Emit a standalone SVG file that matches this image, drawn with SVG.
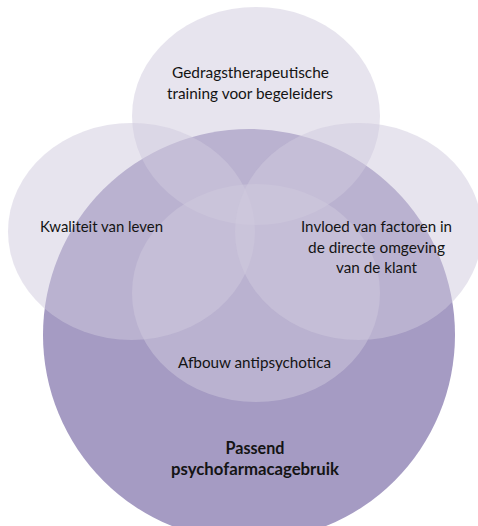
<svg xmlns="http://www.w3.org/2000/svg" width="478" height="526" viewBox="0 0 478 526">
  <style>
    .bg { fill: #ffffff; }
    .main { fill: #a59bc3; }
    .soft { fill: #cfc9dd; fill-opacity: 0.5; }
    .lbl { font-family: Lato, "Open Sans", "Liberation Sans", sans-serif; font-size: 16px; fill: #141414; text-anchor: middle; }
    .bold { font-weight: bold; font-size: 16.5px; }
  </style>
  <rect class="bg" x="0" y="0" width="478" height="526"/>
  <g id="node-passend">
    <circle class="main" cx="249" cy="335" r="206"/>
    <text class="lbl bold" x="255" y="453.5" textLength="59" lengthAdjust="spacingAndGlyphs">Passend</text>
    <text class="lbl bold" x="255" y="475" textLength="168" lengthAdjust="spacingAndGlyphs">psychofarmacagebruik</text>
  </g>
  <g id="node-training">
    <ellipse class="soft" cx="256" cy="116" rx="124" ry="109"/>
    <text class="lbl" x="250.5" y="78" textLength="157" lengthAdjust="spacingAndGlyphs">Gedragstherapeutische</text>
    <text class="lbl" x="250" y="98.5" textLength="166" lengthAdjust="spacingAndGlyphs">training voor begeleiders</text>
  </g>
  <g id="node-afbouw">
    <ellipse class="soft" cx="256" cy="293" rx="124" ry="109"/>
    <text class="lbl" x="254.5" y="368" textLength="153" lengthAdjust="spacingAndGlyphs">Afbouw antipsychotica</text>
  </g>
  <g id="node-kwaliteit">
    <ellipse class="soft" cx="131.5" cy="231.5" rx="123.5" ry="108.5"/>
    <text class="lbl" x="101.5" y="232" textLength="123" lengthAdjust="spacingAndGlyphs">Kwaliteit van leven</text>
  </g>
  <g id="node-invloed">
    <ellipse class="soft" cx="358.5" cy="231.5" rx="123.5" ry="108.5"/>
    <text class="lbl" x="376.5" y="232" textLength="151" lengthAdjust="spacingAndGlyphs">Invloed van factoren in</text>
    <text class="lbl" x="376.5" y="252.5" textLength="137" lengthAdjust="spacingAndGlyphs">de directe omgeving</text>
    <text class="lbl" x="376.5" y="273" textLength="81" lengthAdjust="spacingAndGlyphs">van de klant</text>
  </g>
  <g id="connectors"/>
</svg>
